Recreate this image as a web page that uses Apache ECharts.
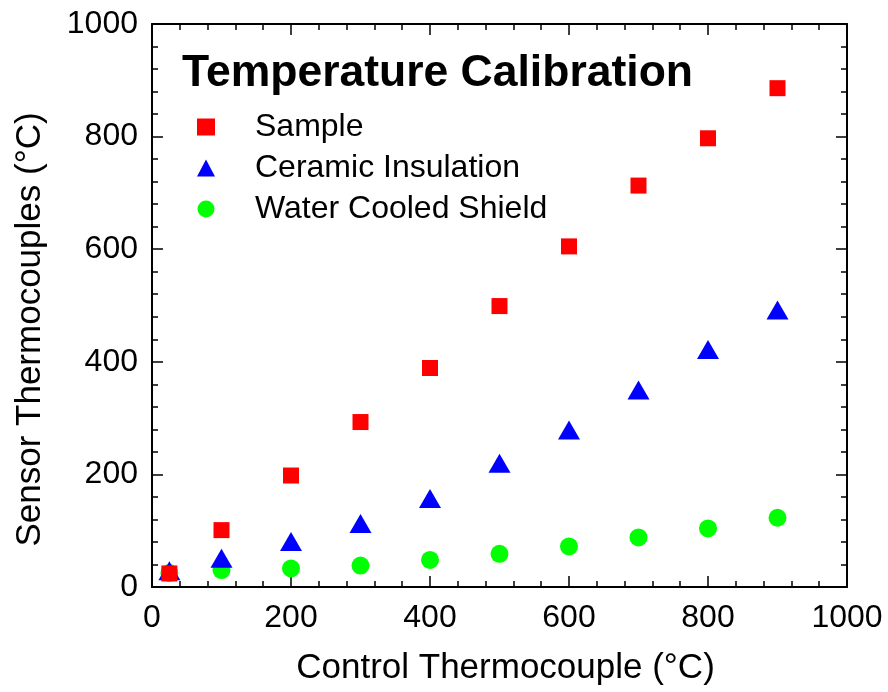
<!DOCTYPE html>
<html>
<head>
<meta charset="utf-8">
<script src="https://cdn.jsdelivr.net/npm/echarts@6/dist/echarts.min.js"></script>
<style>
html,body{margin:0;padding:0;background:#fff;}
#chart{width:888px;height:692px;}
</style>
</head>
<body>
<div id="chart"></div>
<script>
var titleText = 'Temperature Calibration';
var seriesNames = ['Sample', 'Ceramic Insulation', 'Water Cooled Shield'];
var controlTemps = [25, 100, 200, 300, 400, 500, 600, 700, 800, 900];
var sampleValues = [24, 101, 198, 293, 389, 499, 605, 713, 797, 886];
var ceramicValues = [29, 51, 81, 113, 157, 220, 279, 350, 422, 492];
var waterValues = [25, 30, 33, 38, 48, 59, 72, 88, 104, 123];
var xAxisName = 'Control Thermocouple (°C)';
var yAxisName = 'Sensor Thermocouples (°C)';

function pairs(xs, ys) { return xs.map(function (x, i) { return [x, ys[i]]; }); }

var FONT = '"Liberation Sans", Arial, Helvetica, sans-serif';
var chart = echarts.init(document.getElementById('chart'), null, {renderer: 'canvas'});

function axisCommon(show) {
  return {
    type: 'value', min: 0, max: 1000, interval: 200,
    axisLine: {show: true, onZero: false, lineStyle: {color: '#000', width: 2}},
    axisTick: {show: true, inside: true, length: 11, lineStyle: {color: '#000', width: 1.5}},
    minorTick: {show: true, splitNumber: 5, length: 6, lineStyle: {color: '#000', width: 1.5}},
    splitLine: {show: false},
    axisLabel: {show: show, color: '#000', fontSize: 32, fontFamily: FONT,
      formatter: function (v) { return String(v); }},
  };
}

var xBottom = axisCommon(true);
xBottom.position = 'bottom';
xBottom.axisLabel.margin = 15;
xBottom.name = xAxisName;
xBottom.nameLocation = 'middle';
xBottom.nameGap = 64;
xBottom.nameTextStyle = {color: '#000', fontSize: 35, fontFamily: FONT, padding: [0, 0, 0, 12]};

var xTop = axisCommon(false);
xTop.position = 'top';

var yLeft = axisCommon(true);
yLeft.position = 'left';
yLeft.axisLabel.margin = 14;
yLeft.name = yAxisName;
yLeft.nameLocation = 'middle';
yLeft.nameGap = 104;
yLeft.nameTextStyle = {color: '#000', fontSize: 35, fontFamily: FONT, padding: [0, 48, 0, 0]};

var yRight = axisCommon(false);
yRight.position = 'right';

var option = {
  backgroundColor: '#fff',
  animation: false,
  title: {
    text: titleText, left: 182, top: 51, padding: 0,
    textStyle: {color: '#000', fontSize: 44.5, fontWeight: 'bold', fontFamily: FONT}
  },
  legend: {
    data: seriesNames, orient: 'vertical', left: 197, top: 111, padding: 0,
    itemWidth: 18, itemHeight: 17, itemGap: 9, symbolKeepAspect: true,
    textStyle: {color: '#000', fontSize: 32, fontFamily: FONT, lineHeight: 32, padding: [0, 0, 0, 35]}
  },
  grid: {left: 152, right: 41, top: 24, bottom: 105, containLabel: false},
  xAxis: [xBottom, xTop],
  yAxis: [yLeft, yRight],
  series: [
    {name: seriesNames[2], type: 'scatter', xAxisIndex: 0, yAxisIndex: 0,
     symbol: 'circle', symbolSize: 18, itemStyle: {color: '#00ff00', opacity: 1},
     data: pairs(controlTemps, waterValues)},
    {name: seriesNames[1], type: 'scatter', xAxisIndex: 0, yAxisIndex: 0,
     symbol: 'triangle', symbolSize: [22, 19], itemStyle: {color: '#0000ff', opacity: 1},
     data: pairs(controlTemps, ceramicValues)},
    {name: seriesNames[0], type: 'scatter', xAxisIndex: 0, yAxisIndex: 0,
     symbol: 'rect', symbolSize: 16, itemStyle: {color: '#ff0000', opacity: 1},
     data: pairs(controlTemps, sampleValues)}
  ]
};
chart.setOption(option);
</script>
</body>
</html>
